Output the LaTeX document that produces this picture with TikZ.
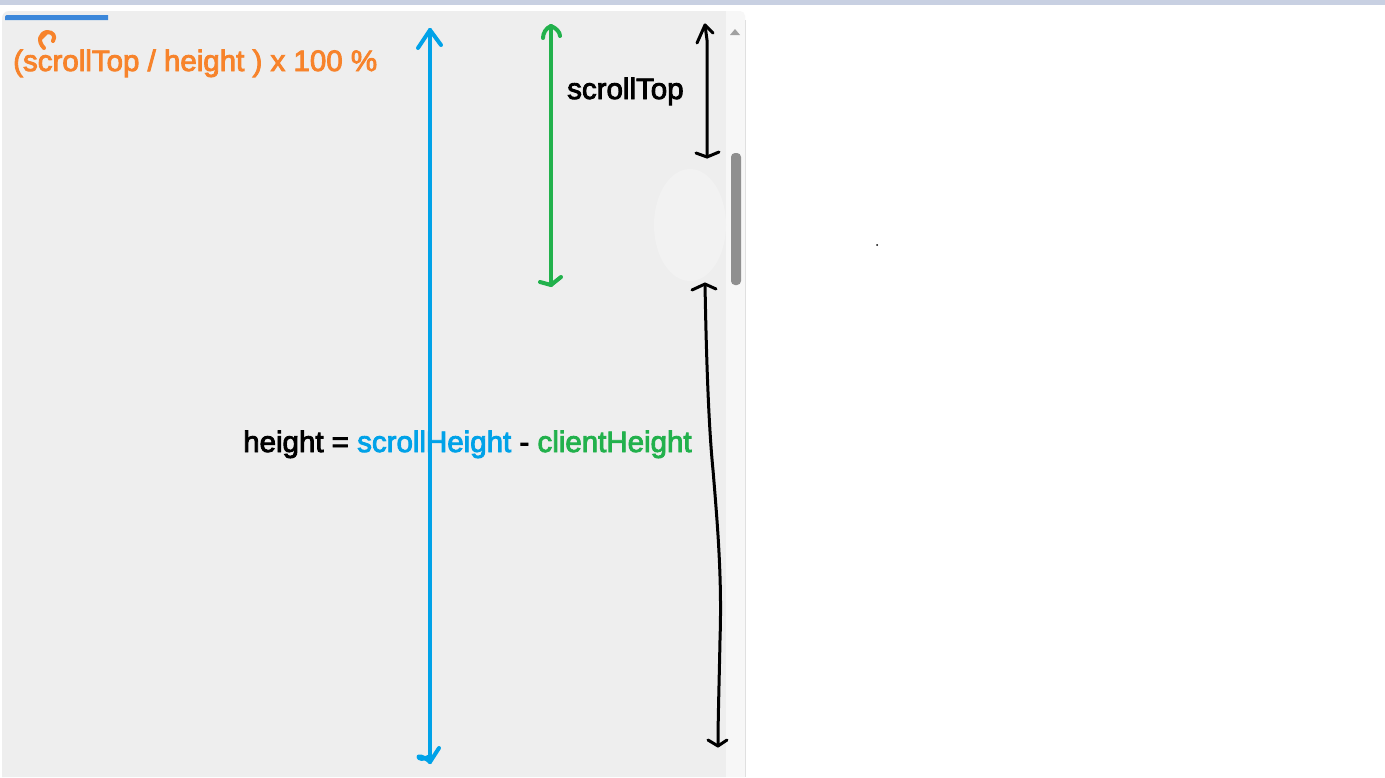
\documentclass[tikz,border=0pt]{standalone}
\usepackage{fontspec}
\setmainfont{Liberation Sans}[BoldFont=Liberation Sans,BoldFeatures={FakeBold=3}]
\definecolor{paintblue}{HTML}{00A2E8}
\definecolor{paintgreen}{HTML}{22B14C}
\definecolor{paintorange}{HTML}{F7832B}
\definecolor{panelgray}{HTML}{EEEEEE}
\definecolor{topstrip}{HTML}{C8D0E2}
\definecolor{tabblue}{HTML}{3C87DA}
\definecolor{thumbgray}{HTML}{8F8F8F}
\begin{document}
\begin{tikzpicture}[x=1pt,y=-1pt,
  lbl/.style={inner sep=0pt,anchor=base west,font=\fontsize{29.5}{34}\selectfont\bfseries},
  pen/.style={line width=#1,line cap=round,line join=round},
  bluepen/.style={pen=4pt,draw=paintblue},
  greenpen/.style={pen=4pt,draw=paintgreen},
  blackpen/.style={pen=3pt,draw=black},
  orangepen/.style={pen=4pt,draw=paintorange}]
\useasboundingbox (0,0) rectangle (1385,777);
% background
\fill[white] (0,0) rectangle (1385,777);
\fill[topstrip] (0,0) rectangle (1385,5);
\fill[panelgray] (2,777) -- (2,18) arc[start angle=180,end angle=270,radius=7] -- (726,11) -- (726,777) -- cycle;
\fill[white!97!black] (726,11) -- (740,11) arc[start angle=270,end angle=360,radius=5] -- (745,777) -- (726,777) -- cycle;
\draw[white!88!black,line width=0.8pt] (745.5,20) -- (745.5,777);
\fill[panelgray!75!white] (690,225) ellipse[x radius=36,y radius=56];
% tab
\fill[tabblue] (5,20) -- (5,17) arc[start angle=180,end angle=270,radius=2] -- (108,15) -- (108,20) -- cycle;
% scrollbar
\fill[white!63!black] (730,35) -- (740,35) -- (735,29) -- cycle;
\fill[thumbgray,rounded corners=4pt] (731,153) rectangle (741,285);
% dot
\fill[black] (877,245) circle[radius=1];
% texts
\node[lbl,text=paintorange] (pct) at (13,71) {(scrollTop / height ) x 100 \%};
\node[lbl] (st) at (567,99) {scrollTop};
\node[lbl] (eq) at (243,452) {height = \textcolor{paintblue}{scrollHeight} - \textcolor{paintgreen}{clientHeight}};
% orange curl
\coordinate (oc1) at (44,48);
\draw[orangepen] (oc1) .. controls (37,41) and (40,33) .. (47,32) .. controls (53,32) and (56,36) .. (53,41);
\draw[orangepen] (47,32) -- (41,38);
% blue arrow
\coordinate (bT) at (430,30);
\coordinate (bB) at (430,762);
\draw[bluepen] (bT) -- (bB);
\draw[bluepen] (bT) -- ++(-12,18);
\draw[bluepen] (bT) -- ++(11,15);
\draw[bluepen] (bB) -- ++(9,-14);
\draw[bluepen] (bB) .. controls (424,756) and (416,755) .. (419,758) .. controls (422,760) and (426,758) .. (428,757);
% green arrow
\coordinate (gT) at (551,26);
\coordinate (gB) at (551,285);
\draw[greenpen] (gT) -- (gB);
\draw[greenpen] (gT) .. controls (546,28) and (543,33) .. (543,38);
\draw[greenpen] (gT) .. controls (556,28) and (560,32) .. (560,36);
\draw[greenpen] (gB) -- ++(-11,-3);
\draw[greenpen] (gB) -- ++(10,-8);
% black top arrow
\coordinate (kT) at (705,25);
\coordinate (kB) at (707,157);
\draw[blackpen] (kT) -- (707,40) -- (kB);
\draw[blackpen] (kT) -- ++(-8,18);
\draw[blackpen] (kT) -- ++(8,8);
\draw[blackpen] (kB) -- ++(-11,-4);
\draw[blackpen] (kB) -- ++(12,-5);
% black bottom arrow
\coordinate (lT) at (705,284);
\coordinate (lB) at (718,746);
\draw[blackpen] (lT) .. controls (706,340) and (708,420) .. (713,470) .. controls (718,530) and (722,580) .. (720,640) .. controls (719,690) and (718,720) .. (lB);
\draw[blackpen] (lT) -- ++(-13,6);
\draw[blackpen] (lT) -- ++(11,5);
\draw[blackpen] (lB) -- ++(-10,-6);
\draw[blackpen] (lB) -- ++(9,-6);
\end{tikzpicture}
\end{document}
